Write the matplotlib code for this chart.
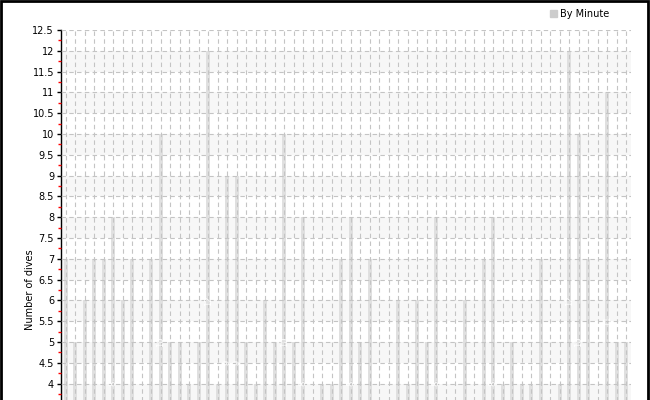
import numpy as np
import matplotlib
matplotlib.use("Agg")
import matplotlib.pyplot as plt
from matplotlib.patches import Patch, Rectangle
from matplotlib.ticker import MultipleLocator, FormatStrFormatter

# Dane: liczba nurkowan w kazdej minucie (0-59)
minutes = list(range(60))
dives = [7, 5, 6, 7, 7, 8, 6, 7, 3, 7,
         10, 5, 5, 4, 5, 12, 4, 9, 9, 5,
         4, 6, 5, 10, 5, 8, 3, 4, 4, 7,
         8, 5, 7, 3, 3, 6, 4, 6, 5, 8,
         3, 3, 6, 3, 7, 8, 4, 5, 4, 4,
         7, 3, 4, 12, 10, 7, 3, 11, 5, 5]
series_label = "By Minute"
y_label = "Number of dives"

bar_color = "#e0e0e0"
band_color = "#f7f7f7"
grid_color = "#c4c4c4"

fig = plt.figure(figsize=(6.5, 4), dpi=100)
# Os wychodzi poza dolna krawedz obrazka (wykres jest uciety)
ax = fig.add_axes([61/650, -0.375, 570/650, 1.3])

ax.set_xlim(-0.5, len(minutes) - 0.5)
ax.set_ylim(0, 12.5)

# Naprzemienne pasy tla
for k in range(1, 13):
    ax.axhspan(k - 0.5, k, color=band_color, lw=0, zorder=0)

ax.bar(minutes, dives, width=0.42, color=bar_color, zorder=1)
for m, d in zip(minutes, dives):
    ax.text(m, d / 2, str(d), rotation=90, ha="center", va="center",
            fontsize=6, color="white", zorder=4)

ax.yaxis.set_major_locator(MultipleLocator(0.5))
ax.yaxis.set_minor_locator(MultipleLocator(0.25))
ax.yaxis.set_major_formatter(FormatStrFormatter("%g"))
ax.set_xticks(minutes)
ax.set_xticklabels([])

ax.grid(True, which="major", color=grid_color, linestyle=(0, (4, 3)),
        linewidth=0.8, zorder=3)
ax.set_axisbelow(False)

for s in ["top", "right", "bottom"]:
    ax.spines[s].set_visible(False)
ax.spines["left"].set_color("black")
ax.spines["left"].set_linewidth(1.0)

ax.tick_params(axis="y", which="major", length=3, width=1, color="black",
               labelsize=7, pad=2)
ax.tick_params(axis="y", which="minor", length=2, width=1, color="red")
ax.tick_params(axis="x", length=0)

ax.set_ylabel(y_label, fontsize=7)
ax.yaxis.set_label_coords((35 - 61) / 570, 0.5)

fig.legend(handles=[Patch(color="#cccccc")], labels=[series_label],
           loc="center left", bbox_to_anchor=(550/650, 1 - 14/400),
           frameon=False, fontsize=7, handlelength=0.7, handleheight=0.7,
           handletextpad=0.35, borderpad=0, borderaxespad=0)

# Czarna ramka wokol calego obrazka
fig.patches.append(Rectangle((0.001, -0.5), 0.996, 1.498, transform=fig.transFigure,
                             fill=False, edgecolor="black", linewidth=2))

fig.savefig("out.png", dpi=100)
